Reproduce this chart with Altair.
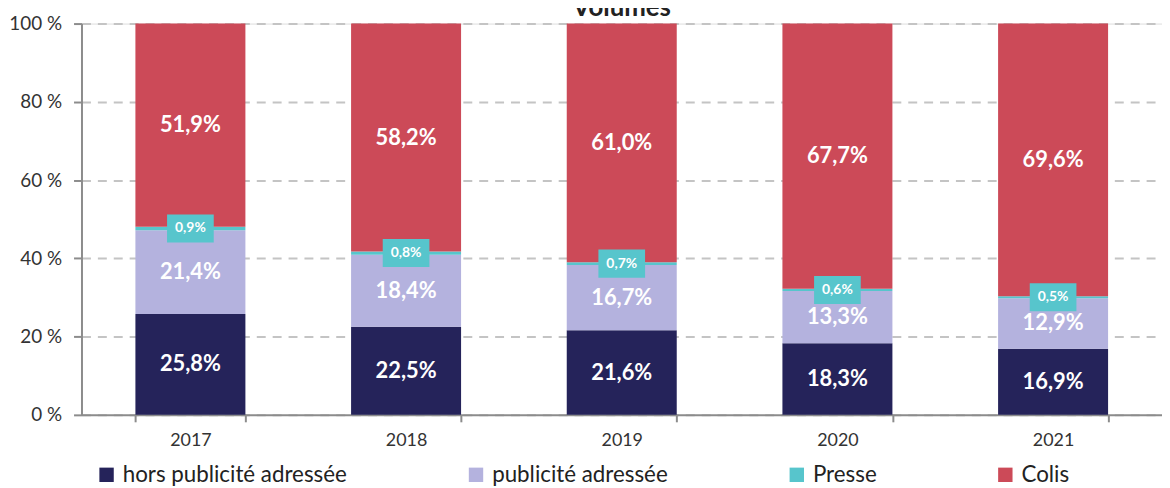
import altair as alt
import pandas as pd

years = ["2017", "2018", "2019", "2020", "2021"]
hors = [25.8, 22.5, 21.6, 18.3, 16.9]
pub = [21.4, 18.4, 16.7, 13.3, 12.9]
presse = [0.9, 0.8, 0.7, 0.6, 0.5]
colis = [51.9, 58.2, 61.0, 67.7, 69.6]
series = ["hors publicité adressée", "publicité adressée", "Presse", "Colis"]
colors = ["#25235a", "#b4b2de", "#57c5cc", "#cc4a58"]
y_ticks = [0, 20, 40, 60, 80, 100]

rows = []
for i, yr in enumerate(years):
    vals = [hors[i], pub[i], presse[i], colis[i]]
    total = sum(vals)
    cum = 0.0
    for s, v in zip(series, vals):
        start = cum / total * 100
        cum += v
        end = cum / total * 100
        rows.append({
            "year": yr, "series": s, "value": v,
            "start": start, "end": end, "mid": (start + end) / 2,
            "label": f"{v:.1f}".replace(".", ",") + "%",
        })
df = pd.DataFrame(rows)

FONT = "Lato"

x_enc = alt.X(
    "year:N",
    scale=alt.Scale(paddingInner=0.49, paddingOuter=0.25),
    axis=alt.Axis(
        title=None, labelAngle=0, tickBand="extent", labelFontSize=18,
        labelColor="#333333", labelPadding=10, tickSize=7, tickColor="#8c8c8c",
        domainColor="#8c8c8c", domainWidth=2, tickWidth=2, grid=False, labelFont=FONT,
    ),
)

base = alt.Chart(df)

bars = base.mark_bar().encode(
    x=x_enc,
    y=alt.Y(
        "start:Q",
        scale=alt.Scale(domain=[0, 100], nice=False),
        axis=alt.Axis(
            title=None, values=y_ticks, labelExpr="datum.value + ' %'",
            labelFontSize=19, labelColor="#333333", labelPadding=12, labelFont=FONT,
            tickSize=8, tickColor="#8c8c8c", tickWidth=2,
            domainColor="#8c8c8c", domainWidth=2,
            grid=True, gridDash=[9, 7], gridColor="#c4c4c4", gridWidth=2,
        ),
    ),
    y2="end:Q",
    color=alt.Color(
        "series:N",
        scale=alt.Scale(domain=series, range=colors),
        legend=alt.Legend(
            title=None, orient="none", legendX=14, legendY=443,
            direction="horizontal", symbolType="square", symbolSize=210,
            symbolStrokeWidth=0, labelFontSize=22.5, labelFont=FONT, labelColor="#222222",
            columnPadding=118, labelOffset=5, labelLimit=400,
        ),
    ),
)

labels = base.transform_filter("datum.series != 'Presse'").mark_text(
    color="white", fontWeight="bold", fontSize=22, font=FONT, baseline="middle"
).encode(x=x_enc, y="mid:Q", text="label:N")

box_shape = "M-1,-0.6L1,-0.6L1,0.6L-1,0.6Z"
presse_box = base.transform_filter("datum.series == 'Presse'").mark_point(
    shape=box_shape, filled=True, opacity=1, size=47 * 47, color="#57c5cc", strokeWidth=0
).encode(x=x_enc, y="mid:Q")

presse_text = base.transform_filter("datum.series == 'Presse'").mark_text(
    color="white", fontWeight="bold", fontSize=14, font=FONT, baseline="middle"
).encode(x=x_enc, y="mid:Q", text="label:N")

chart = alt.layer(bars, labels, presse_box, presse_text).properties(
    width=1088, height=394,
    title=alt.Title("Volumes", fontSize=26, font=FONT, fontWeight="bold",
                    anchor="middle", offset=0, dy=6, frame="group", color="#222222"),
    autosize=alt.AutoSizeParams(type="none"),
    padding={"left": 74, "top": 14, "right": 0, "bottom": 76},
).configure_view(stroke=None).configure(background="white")

chart.save("out.html", embed_options={"renderer": "svg", "actions": False})
